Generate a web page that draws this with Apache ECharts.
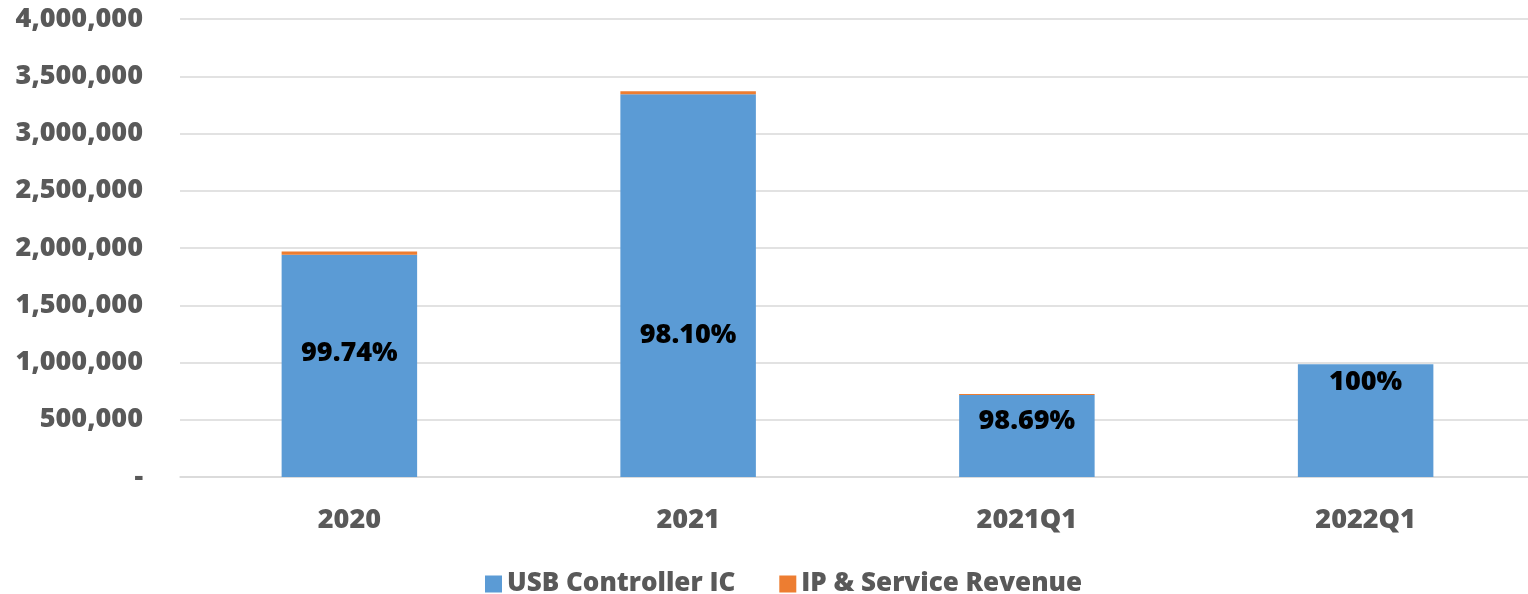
<!DOCTYPE html>
<html>
<head>
<meta charset="utf-8">
<style>
  html, body { margin: 0; padding: 0; background: #fff; overflow: hidden; }
  #chart { width: 1535px; height: 594px; }
</style>
<script src="https://cdn.jsdelivr.net/npm/echarts@6/dist/echarts.min.js"></script>
</head>
<body>
<div id="chart"></div>
<script>
  // values
  var categories = ['2020', '2021', '2021Q1', '2022Q1'];
  var usbController = [1942000, 3342000, 716000, 985000];
  var ipService = [28000, 28000, 9000, 0];
  var shareLabels = ['99.74%', '98.10%', '98.69%', '100%'];
  var labelShift = [-13, 50, -15, -38];

  var FONT = '"Open Sans", "Noto Sans", sans-serif';
  var GREY = '#595959';
  var SIZE = 27;
  var WEIGHT = 800;

  var chart = echarts.init(document.getElementById('chart'));

  var usbData = usbController.map(function (v, i) {
    return {
      value: v,
      label: { formatter: shareLabels[i], offset: [0, labelShift[i]] }
    };
  });

  chart.setOption({
    animation: false,
    textStyle: { fontFamily: FONT },
    grid: { left: 180, right: 0, top: 19, bottom: 117 },
    legend: {
      top: 566,
      left: 480,
      itemWidth: 17,
      itemHeight: 17,
      itemGap: 44,
      icon: 'rect',
      textStyle: { fontSize: 26, fontWeight: WEIGHT, color: GREY, fontFamily: FONT },
      data: ['USB Controller IC', 'IP & Service Revenue']
    },
    xAxis: {
      type: 'category',
      data: categories,
      axisLine: { lineStyle: { color: '#d9d9d9', width: 1.5 } },
      axisTick: { show: false },
      axisLabel: { fontSize: SIZE, fontWeight: WEIGHT, color: GREY, margin: 30 }
    },
    yAxis: {
      type: 'value',
      min: 0,
      max: 4000000,
      interval: 500000,
      axisLine: { show: false },
      axisTick: { show: false },
      splitLine: { lineStyle: { color: '#d9d9d9', width: 1.5 } },
      axisLabel: {
        fontSize: SIZE,
        fontWeight: WEIGHT,
        color: GREY,
        margin: 37,
        formatter: function (v) {
          return v === 0 ? '-' : v.toLocaleString('en-US');
        }
      }
    },
    series: [
      {
        name: 'USB Controller IC',
        type: 'bar',
        stack: 'rev',
        barWidth: '40%',
        itemStyle: { color: '#5b9bd5' },
        label: {
          show: true,
          position: 'inside',
          color: '#000',
          fontSize: SIZE,
          fontWeight: WEIGHT,
          fontFamily: FONT
        },
        data: usbData
      },
      {
        name: 'IP & Service Revenue',
        type: 'bar',
        stack: 'rev',
        barWidth: '40%',
        itemStyle: { color: '#ed7d31' },
        data: ipService
      }
    ]
  });

  window.addEventListener('resize', function () {
    chart.resize();
  });
</script>
</body>
</html>
